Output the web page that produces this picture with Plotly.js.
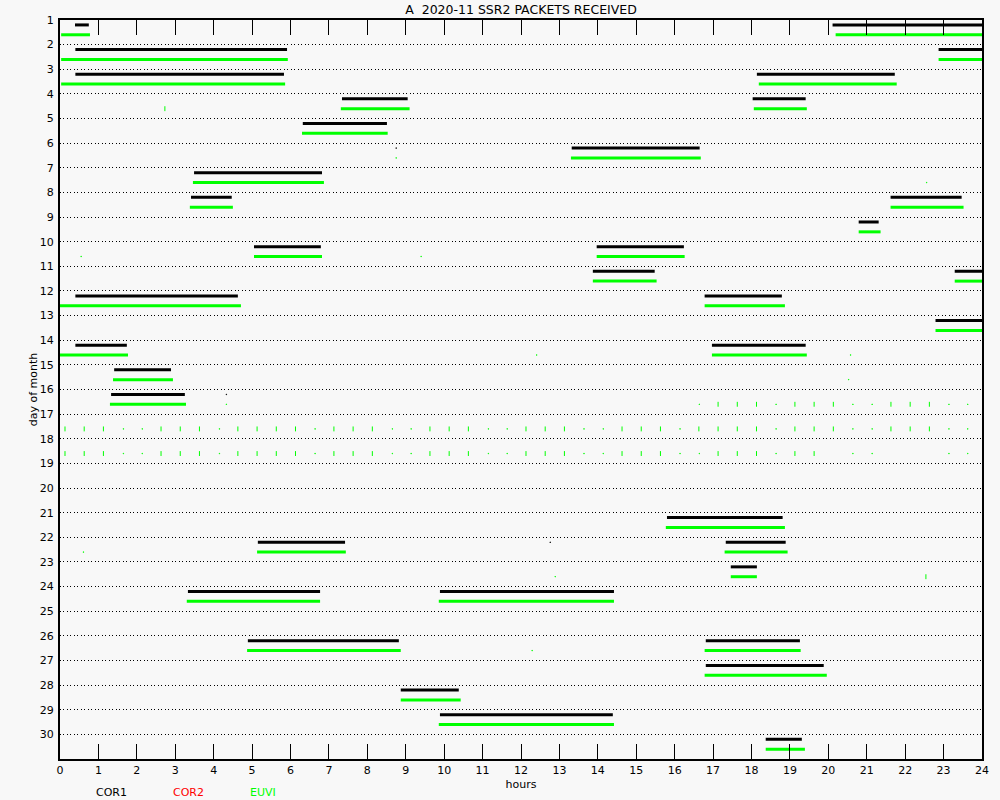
<!DOCTYPE html>
<html>
<head>
<meta charset="utf-8">
<script src="https://cdn.plot.ly/plotly-3.0.1.min.js"></script>
<style>
  html, body { margin: 0; padding: 0; background: #f8f8f8; }
  #chart { width: 1000px; height: 800px; }
</style>
</head>
<body>
<div id="chart"></div>
<script>
// Packet coverage intervals, November 2020 (day of month, start hour, end hour)
const cor1Day   = [1, 1, 2, 2, 3, 3, 4, 4, 5, 6, 7, 8, 8, 9, 10, 10, 11, 11, 12, 12, 13, 14, 14, 15, 16, 21, 22, 22, 23, 24, 24, 26, 26, 27, 28, 29, 30];
const cor1Start = [0.39, 20.11, 0.40, 22.87, 0.40, 18.14, 7.34, 18.03, 6.32, 13.32, 3.49, 3.41, 21.62, 20.79, 5.05, 13.97, 13.87, 23.29, 0.40, 16.78, 22.79, 0.40, 16.97, 1.41, 1.33, 15.80, 5.15, 17.33, 17.46, 3.33, 9.89, 4.89, 16.81, 16.81, 8.87, 9.89, 18.37];
const cor1End   = [0.75, 24.00, 5.91, 24.00, 5.83, 21.73, 9.05, 19.41, 8.51, 16.65, 6.82, 4.47, 23.47, 21.31, 6.79, 16.24, 15.48, 24.00, 4.63, 18.79, 24.00, 1.74, 19.41, 2.89, 3.25, 18.81, 7.42, 18.89, 18.14, 6.77, 14.42, 8.82, 19.26, 19.88, 10.38, 14.39, 19.31];

const cor2Day   = [];
const cor2Start = [];
const cor2End   = [];

const euviDay   = [1, 1, 2, 2, 3, 3, 4, 4, 5, 6, 7, 8, 8, 9, 10, 10, 11, 11, 12, 12, 13, 14, 14, 15, 16, 21, 22, 22, 23, 24, 24, 26, 26, 27, 28, 29, 30];
const euviStart = [0.03, 20.19, 0.03, 22.87, 0.03, 18.19, 7.31, 18.06, 6.30, 13.30, 3.46, 3.38, 21.62, 20.79, 5.05, 13.97, 13.87, 23.29, 0.00, 16.78, 22.79, 0.00, 16.97, 1.38, 1.30, 15.77, 5.13, 17.30, 17.46, 3.30, 9.86, 4.87, 16.78, 16.78, 8.87, 9.86, 18.37];
const euviEnd   = [0.78, 24.00, 5.93, 24.00, 5.86, 21.78, 9.10, 19.44, 8.53, 16.68, 6.87, 4.50, 23.52, 21.36, 6.82, 16.26, 15.53, 24.00, 4.71, 18.87, 24.00, 1.77, 19.44, 2.94, 3.28, 18.87, 7.44, 18.94, 18.14, 6.77, 14.42, 8.87, 19.28, 19.96, 10.43, 14.42, 19.39];

// Isolated single EUVI packets (short ones drawn as ticks, single images as dots)
const euviTickDay  = [4, 23,
  16, 16, 16, 16, 16, 16, 16, 16, 16,
  17, 17, 17, 17, 17, 17, 17, 17, 17, 17, 17, 17, 17, 17, 17, 17, 17, 17, 17, 17, 17, 17, 17, 17, 17, 17, 17, 17, 17, 17, 17, 17,
  18, 18, 18, 18, 18, 18, 18, 18, 18, 18, 18, 18, 18, 18, 18, 18, 18, 18, 18, 18, 18, 18, 18, 18, 18, 18, 18];
const euviTickHour = [2.73, 22.54,
  17.13, 17.63, 18.13, 19.13, 19.63, 20.13, 21.63, 22.13, 22.63,
  0.13, 0.63, 1.13, 2.63, 3.13, 3.63, 4.63, 5.13, 5.63, 6.13, 7.13, 7.63, 8.13, 9.63, 10.13, 10.63, 12.13, 12.63, 13.13, 14.63, 15.13, 15.63, 16.63, 17.13, 17.63, 18.13, 19.13, 19.63, 20.13, 21.63, 22.13, 22.63,
  0.13, 0.63, 1.13, 2.63, 3.13, 3.63, 4.63, 5.13, 5.63, 6.13, 7.13, 7.63, 8.13, 9.63, 10.13, 10.63, 12.13, 12.63, 13.13, 14.63, 15.13, 15.63, 17.13, 17.63, 18.13, 19.13, 19.63, 20.13, 21.63, 22.13, 22.63];

const euviDotDay  = [6, 7, 10, 10, 14, 14, 15, 16, 22, 23, 26,
  16, 16, 16, 16, 16, 16,
  17, 17, 17, 17, 17, 17, 17, 17, 17, 17, 17, 17, 17, 17, 17, 17,
  18, 18, 18, 18, 18, 18, 18, 18, 18, 18, 18, 18, 18, 18, 18, 18, 18];
const euviDotHour = [8.75, 22.56, 0.55, 9.40, 12.41, 20.58, 20.53, 4.33, 0.61, 12.89, 12.29,
  16.64, 18.64, 20.64, 21.14, 23.14, 23.63,
  1.65, 2.14, 4.15, 6.64, 8.65, 9.14, 11.15, 11.64, 13.64, 14.14, 16.14, 18.64, 20.64, 21.14, 23.14, 23.63,
  1.65, 2.14, 4.15, 6.64, 8.65, 9.14, 11.15, 11.64, 13.64, 14.14, 16.14, 16.64, 18.64, 20.64, 21.14, 23.14, 23.63];

const cor1DotDay  = [6, 16, 22];
const cor1DotHour = [8.75, 4.33, 12.76];

const dayTicks  = Array.from({length: 30}, (_, i) => i + 1);
const hourTicks = Array.from({length: 25}, (_, i) => i);

// Row offsets inside each day band: COR1 on top, COR2 middle, EUVI bottom
const OFFSET = {cor1: 0.2, cor2: 0.4, euvi: 0.6};
const COLORS = {cor1: '#000000', cor2: '#ff0000', euvi: '#00ff00'};

function segments(days, starts, ends, off) {
  const x = [], y = [];
  for (let i = 0; i < days.length; i++) {
    x.push(starts[i], ends[i], null);
    y.push(days[i] + off, days[i] + off, null);
  }
  return {x, y};
}

function segTrace(name, days, starts, ends) {
  const s = segments(days, starts, ends, OFFSET[name]);
  return {
    type: 'scatter', mode: 'lines', x: s.x, y: s.y,
    line: {color: COLORS[name], width: 3}, hoverinfo: 'skip', showlegend: false
  };
}

function pointTrace(name, days, hours, symbol, size) {
  return {
    type: 'scatter', mode: 'markers', x: hours,
    y: days.map(d => d + OFFSET[name]),
    marker: {symbol: symbol, size: size, color: COLORS[name],
             line: {color: COLORS[name], width: 1}},
    hoverinfo: 'skip', showlegend: false
  };
}

const traces = [
  segTrace('cor1', cor1Day, cor1Start, cor1End),
  segTrace('cor2', cor2Day, cor2Start, cor2End),
  segTrace('euvi', euviDay, euviStart, euviEnd),
  pointTrace('euvi', euviTickDay, euviTickHour, 'line-ns', 3.5),
  pointTrace('euvi', euviDotDay, euviDotHour, 'square', 0.5),
  pointTrace('cor1', cor1DotDay, cor1DotHour, 'square', 0.5)
];

const FONT = 'DejaVu Sans, sans-serif';

const layout = {
  width: 1000, height: 800,
  margin: {l: 60, r: 18, t: 20, b: 41},
  paper_bgcolor: '#f8f8f8',
  plot_bgcolor: '#f8f8f8',
  font: {family: FONT, size: 11, color: '#000'},
  title: {
    text: 'A  2020-11 SSR2 PACKETS RECEIVED',
    font: {family: FONT, size: 12.5, color: '#000'},
    x: 0.5, xref: 'paper', y: 0.9885, yref: 'container', yanchor: 'middle'
  },
  xaxis: {
    range: [0, 24], tickvals: hourTicks, ticktext: hourTicks.map(String),
    ticks: 'inside', ticklen: 15, tickwidth: 1, tickcolor: '#000',
    showline: true, linecolor: '#000', linewidth: 2, mirror: 'ticks',
    showgrid: false, zeroline: false, fixedrange: true,
    tickfont: {family: FONT, size: 11, color: '#000'},
    title: {text: 'hours', font: {family: FONT, size: 11, color: '#000'}, standoff: 4}
  },
  yaxis: {
    range: [31, 1], tickvals: dayTicks, ticktext: dayTicks.map(String),
    ticks: '', showline: true, linecolor: '#000', linewidth: 2, mirror: true,
    showgrid: true, gridcolor: '#000', gridwidth: 1, griddash: '1px,2px,1px,3px',
    zeroline: false, fixedrange: true, ticklabelstandoff: 2,
    tickfont: {family: FONT, size: 11, color: '#000'},
    title: {text: 'day of month', font: {family: FONT, size: 11, color: '#000'}, standoff: 0}
  },
  annotations: [
    {text: 'COR1', font: {family: FONT, size: 11, color: COLORS.cor1}},
    {text: 'COR2', font: {family: FONT, size: 11, color: COLORS.cor2}},
    {text: 'EUVI', font: {family: FONT, size: 11, color: COLORS.euvi}}
  ].map((a, i) => Object.assign(a, {
    xref: 'paper', yref: 'paper', x: [0.0555, 0.1390, 0.2202][i], y: -0.0460,
    xanchor: 'center', yanchor: 'middle', showarrow: false
  })),
  showlegend: false
};

Plotly.newPlot('chart', traces, layout, {staticPlot: true, displayModeBar: false});
</script>
</body>
</html>
